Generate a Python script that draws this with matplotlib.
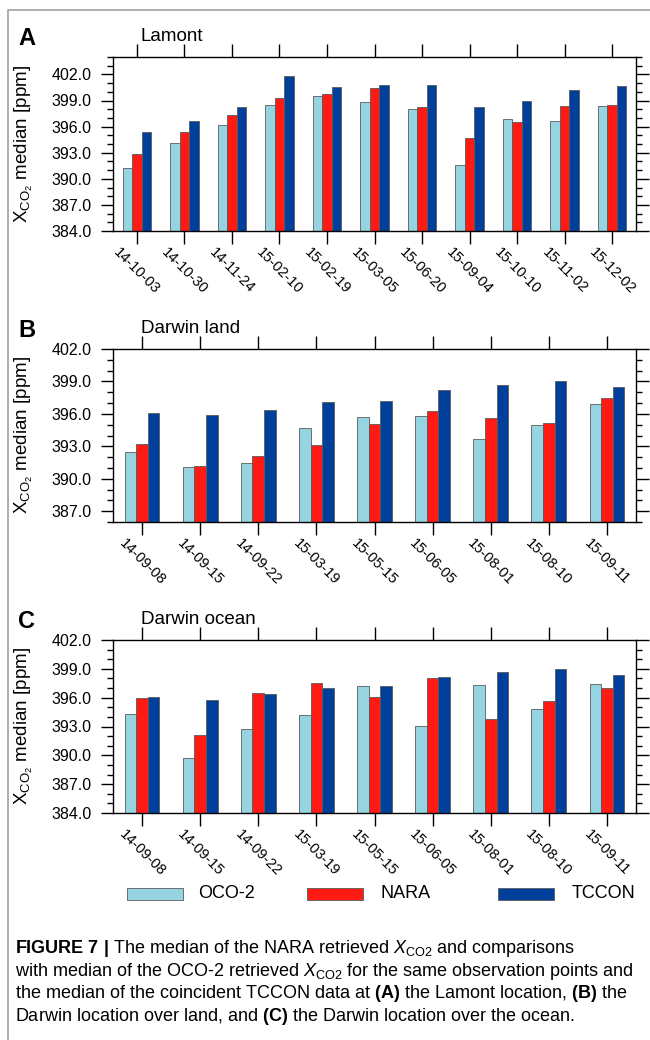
import numpy as np
import matplotlib.pyplot as plt
from matplotlib.patches import Rectangle
from matplotlib.lines import Line2D
from matplotlib.ticker import MultipleLocator, FormatStrFormatter

plt.rcParams['font.family'] = ['Liberation Sans', 'DejaVu Sans']
plt.rcParams['mathtext.fontset'] = 'custom'
plt.rcParams['mathtext.rm'] = 'Liberation Sans'
plt.rcParams['mathtext.it'] = 'Liberation Sans:italic'
plt.rcParams['mathtext.bf'] = 'Liberation Sans:bold'

series = ["OCO-2", "NARA", "TCCON"]
colors = ["#96d4e2", "#ff1a14", "#00409a"]

# (A) Lamont
lamont_dates = ["14-10-03", "14-10-30", "14-11-24", "15-02-10", "15-02-19", "15-03-05",
                "15-06-20", "15-09-04", "15-10-10", "15-11-02", "15-12-02"]
lamont_oco2 = [391.2, 394.1, 396.2, 398.5, 399.5, 398.8, 398.0, 391.6, 396.9, 396.7, 398.4]
lamont_nara = [392.9, 395.4, 397.3, 399.3, 399.7, 400.4, 398.2, 394.7, 396.5, 398.4, 398.5]
lamont_tccon = [395.4, 396.7, 398.3, 401.8, 400.6, 400.8, 400.8, 398.3, 399.0, 400.2, 400.7]

# (B) Darwin land / (C) Darwin ocean
darwin_dates = ["14-09-08", "14-09-15", "14-09-22", "15-03-19", "15-05-15", "15-06-05",
                "15-08-01", "15-08-10", "15-09-11"]
land_oco2 = [392.5, 391.1, 391.5, 394.7, 395.7, 395.8, 393.7, 395.0, 396.9]
land_nara = [393.2, 391.2, 392.1, 393.1, 395.1, 396.3, 395.6, 395.2, 397.5]
land_tccon = [396.1, 395.9, 396.4, 397.1, 397.2, 398.2, 398.7, 399.0, 398.5]

ocean_oco2 = [394.3, 389.7, 392.7, 394.2, 397.2, 393.1, 397.3, 394.8, 397.4]
ocean_nara = [396.0, 392.1, 396.5, 397.5, 396.1, 398.0, 393.8, 395.7, 397.0]
ocean_tccon = [396.1, 395.8, 396.4, 397.0, 397.2, 398.2, 398.7, 399.0, 398.4]

W, H = 650, 1040
fig = plt.figure(figsize=(W / 100, H / 100), dpi=100)

panels = [
    ("A", "Lamont", lamont_dates, [lamont_oco2, lamont_nara, lamont_tccon], (384, 404), 57, 231),
    ("B", "Darwin land", darwin_dates, [land_oco2, land_nara, land_tccon], (386, 402), 349, 522),
    ("C", "Darwin ocean", darwin_dates, [ocean_oco2, ocean_nara, ocean_tccon], (384, 402), 640, 813),
]

left, right = 113, 636
for letter, title, dates, vals, ylim, top, bottom in panels:
    ax = fig.add_axes([left / W, 1 - bottom / H, (right - left) / W, (bottom - top) / H])
    x = np.arange(len(dates))
    for k, (v, c) in enumerate(zip(vals, colors)):
        ax.bar(x + (k - 1) * 0.2, v, width=0.2, color=c, edgecolor="#5a5a5a", linewidth=0.6)
    ax.set_xlim(-0.5, len(dates) - 0.5)
    ax.set_ylim(*ylim)
    ax.yaxis.set_major_locator(MultipleLocator(3))
    ax.yaxis.set_minor_locator(MultipleLocator(1))
    ax.yaxis.set_major_formatter(FormatStrFormatter('%.1f'))
    ax.tick_params(axis='y', which='major', direction='out', length=9, width=1.0,
                   labelsize=11.5, pad=6.5, right=True)
    ax.tick_params(axis='y', which='minor', direction='out', length=4.3, width=1.0, right=True)
    ax.set_xticks(x)
    ax.set_xticklabels(dates, rotation=-45, ha='center')
    ax.tick_params(axis='x', which='major', direction='out', length=9.5, width=1.0,
                   top=True, labelsize=10.5, pad=1)
    for s in ax.spines.values():
        s.set_linewidth(1.0)
    ax.set_ylabel(r'X$_{\mathrm{CO_2}}$ median [ppm]', fontsize=13.5)
    ax.yaxis.set_label_coords((35 - left) / (right - left), 0.5)
    fig.text(141 / W, 1 - (top - 16) / H, title, fontsize=13.5, va='baseline', ha='left')
    fig.text(18 / W, 1 - (top - 12) / H, letter, fontsize=17, fontweight='bold',
             va='baseline', ha='left')

# legend row
patch_x = [127, 307, 498]
text_x = [198, 380, 572]
for name, c, px, tx in zip(series, colors, patch_x, text_x):
    fig.add_artist(Rectangle((px / W, 1 - 900 / H), 56 / W, 12 / H, transform=fig.transFigure,
                             facecolor=c, edgecolor="#5a5a5a", linewidth=0.6))
    fig.text(tx / W, 1 - 894 / H, name, fontsize=13, va='center', ha='left')

caption = [
    r"$\mathbf{FIGURE\ 7\ |}$ The median of the NARA retrieved $X_{\mathrm{CO2}}$ and comparisons",
    r"with median of the OCO-2 retrieved $X_{\mathrm{CO2}}$ for the same observation points and",
    r"the median of the coincident TCCON data at $\mathbf{(A)}$ the Lamont location, $\mathbf{(B)}$ the",
    r"Darwin location over land, and $\mathbf{(C)}$ the Darwin location over the ocean.",
]
for i, line in enumerate(caption):
    fig.text(15 / W, 1 - (953 + i * 22.7) / H, line, fontsize=13, va='baseline', ha='left')

# outer frame
fig.add_artist(Line2D([8 / W, 8 / W, 1.0], [0.0, 1 - 10 / H, 1 - 10 / H],
                      transform=fig.transFigure, color="#a0a0a0", linewidth=1.2))

fig.savefig("out.png", dpi=100)
